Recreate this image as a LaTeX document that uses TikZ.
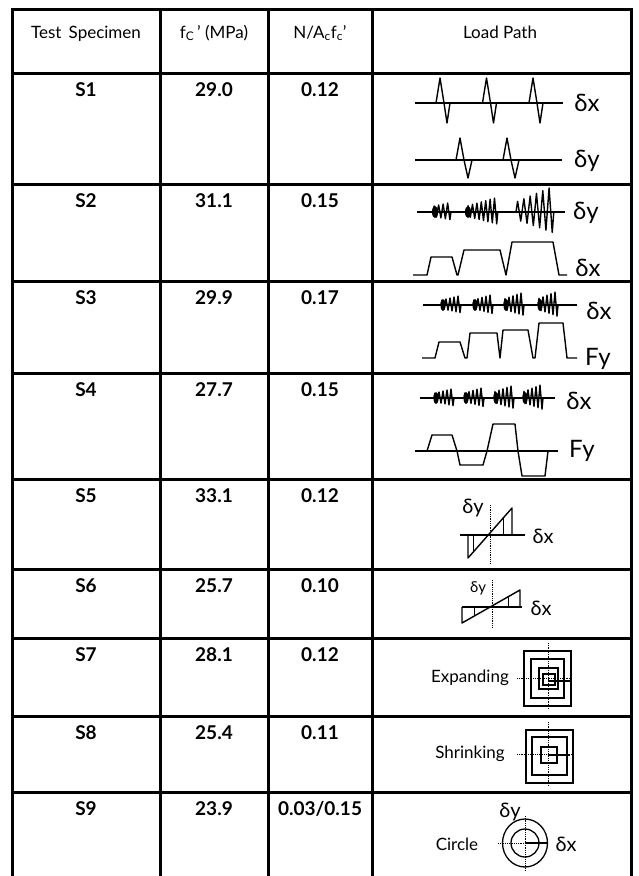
\documentclass[tikz,border=0pt]{standalone}
\usepackage{fontspec}
\setmainfont{Lato}
\newcommand{\zig}[6]{%
  \draw[wave] (#1,#2) \foreach \i in {1,...,#3}{
    -- ({#1+(\i-0.75)*#4},{#2-(#5+(#6-#5)*\i/#3)})
    -- ({#1+(\i-0.25)*#4},{#2+0.85*(#5+(#6-#5)*\i/#3)}) } -- ({#1+#3*#4},#2);}
\begin{document}
\begin{tikzpicture}[x=1pt,y=-1pt,
  gridline/.style={line width=3pt,line cap=rect},
  hd/.style={font=\fontsize{17}{19}\selectfont,anchor=base,inner sep=0},
  dat/.style={font=\bfseries\fontsize{19}{21}\selectfont,anchor=base,inner sep=0},
  wave/.style={line width=1.4pt,line join=round},
  base/.style={line width=1.5pt},
  axisline/.style={line width=0.8pt,densely dotted},
  lbig/.style={font=\fontsize{24}{26}\selectfont,inner sep=0},
  lmid/.style={font=\fontsize{20}{22}\selectfont,inner sep=0},
  lsml/.style={font=\fontsize{15}{17}\selectfont,inner sep=0},
  lword/.style={font=\fontsize{17}{19}\selectfont,inner sep=0}]
\useasboundingbox (0,0) rectangle (638,876);
% grid
\foreach \x in {12,160,268,372,631} \draw[gridline] (\x,9) -- (\x,876);
\foreach \y in {9,73,184,281,373,479,569,638,716,792} \draw[gridline] (12,\y) -- (631,\y);
% header
\node[hd] (h1) at (86,38) {Test\, Specimen};
\node[hd] (h2) at (214,38) {f\textsubscript{C}\,’ (MPa)};
\node[hd] (h3) at (320,38) {N/A\textsubscript{c}f\textsubscript{c}’};
\node[hd] (h4) at (500,38) {Load Path};
% data
\foreach \n/\y/\a/\b/\c in {1/73/S1/29.0/0.12, 2/184/S2/31.1/0.15, 3/281/S3/29.9/0.17,
   4/373/S4/27.7/0.15, 5/479/S5/33.1/0.12, 6/569/S6/25.7/0.10, 7/638/S7/28.1/0.12,
   8/716/S8/25.4/0.11, 9/792/S9/23.9/{0.03/0.15}}{
  \node[dat] (s\n) at (86,\y+23) {\a};
  \node[dat] (f\n) at (214,\y+23) {\b};
  \node[dat] (r\n) at (320,\y+23) {\c};
}
% ---- S1
\draw[base] (415,103) -- (563,103);
\foreach \d in {0,46.5,93}
  \draw[wave] (436+\d,103) -- (440+\d,78) -- (444+\d,103) -- (447+\d,123) -- (450+\d,103);
\node[lbig] (l1a) at (587,103) {δx};
\draw[base] (415,160) -- (562,160);
\foreach \d in {0,47}
  \draw[wave] (456+\d,160) -- (460+\d,138) -- (464+\d,160) -- (468+\d,178) -- (472+\d,160);
\node[lbig] (l1b) at (587,161) {δy};
% ---- S2
\draw[base] (417,212) -- (565,212);
\fill (435,212) ellipse (3 and 6);
\fill (468,212) ellipse (3 and 6);
\zig{433}{212}{4}{4.5}{5}{9}
\zig{467}{212}{7}{4.4}{5}{14}
\zig{516}{212}{6}{6.3}{8}{24}
\node[lbig] (l2a) at (586,213) {δy};
\draw[wave] (413,275) -- (427,275) -- (431,257) -- (452,257) -- (457,275) -- (458,275)
  -- (464,250) -- (500,250) -- (506,275) -- (512,242) -- (553,242) -- (559,275) -- (567,275);
\node[lbig] (l2b) at (588,268) {δx};
% ---- S3
\draw[base] (423,305) -- (577,305);
\foreach \c/\a/\b in {441/4/9,473/4/10,504/5/12,538/5/13}{
  \fill (\c+2,305) ellipse (2.5 and 6);
  \zig{\c}{305}{5}{4}{\a}{\b}
}
\node[lbig] (l3a) at (599,311) {δx};
\draw[wave] (422,358) -- (435,358) -- (439,342) -- (460,342) -- (465,358) -- (467,358)
  -- (470,333) -- (497,333) -- (500,358) -- (503,330) -- (528,330) -- (533,358)
  -- (535,358) -- (539,323) -- (563,323) -- (567,358) -- (577,358);
\node[lbig] (l3b) at (598,359) {Fy};
% ---- S4
\draw[base] (420,398) -- (555,398);
\foreach \c/\a/\b in {434/4/9,464/4/10,494/5/12,523/5/13}{
  \fill (\c+2,398) ellipse (2.5 and 6);
  \zig{\c}{398}{5}{4}{\a}{\b}
}
\node[lbig] (l4a) at (579,401) {δx};
\draw[base] (415,451) -- (558,451);
\draw[wave] (427,451) -- (432,435) -- (452,435) -- (457,451) -- (460,465) -- (483,465)
  -- (487,451) -- (493,424) -- (515,424) -- (518,451) -- (522,476) -- (545,476) -- (548,451);
\node[lbig] (l4b) at (582,451) {Fy};
% ---- S5
\draw[axisline] (490,505) -- (490,563);
\draw[line width=2pt] (460,535) -- (525,535);
\draw[wave] (468,535) -- (468,558) -- (512,508) -- (512,535);
\draw[line width=1pt] (473,535) -- (473,552);
\draw[line width=1pt] (503,518) -- (503,535);
\node[lmid] (l5a) at (473,508) {δy};
\node[lmid] (l5b) at (543,536) {δx};
% ---- S6
\draw[axisline] (492,580) -- (492,628);
\draw[line width=1.6pt] (462,607) -- (522,607);
\draw[wave] (462,607) -- (462,623) -- (520,590) -- (520,607);
\draw[line width=1pt] (474,607) -- (474,616);
\draw[line width=1pt] (508,597) -- (508,607);
\node[lsml] (l6a) at (478,588) {δy};
\node[lmid] (l6b) at (541,608) {δx};
% ---- S7
\node[lword] (l7) at (470,678) {Expanding};
\draw[axisline] (517,678) -- (571,678);
\draw[axisline] (548,643) -- (548,708);
\draw[line width=1.1pt] (524,651) rectangle (571,706);
\draw[line width=1.1pt] (531,659) rectangle (564,698);
\draw[line width=1.1pt] (539,668) rectangle (558,689);
\draw[line width=1.1pt] (543,674) rectangle (555,685);
\draw[line width=1.8pt] (548,681) -- (571,681);
% ---- S8
\node[lword] (l8) at (470,754) {Shrinking};
\draw[axisline] (517,754) -- (574,754);
\draw[axisline] (548,722) -- (548,786);
\draw[line width=1.1pt] (526,730) rectangle (573,783);
\draw[line width=1.1pt] (532,737) rectangle (567,775);
\draw[line width=1.1pt] (541,747) rectangle (557,763);
\draw[line width=1.8pt] (548,755) -- (570,755);
% ---- S9
\node[lword] (l9) at (457,844) {Circle};
\draw[axisline] (498,843) -- (547,843);
\draw[axisline] (525,816) -- (525,871);
\draw[line width=1.3pt] (525,843) ellipse (22.5 and 24);
\draw[line width=1.3pt] (525,843) circle (14);
\draw[line width=1.8pt] (525,843) -- (547,843);
\node[lmid] (l9a) at (510,812) {δy};
\node[lmid] (l9b) at (566,844) {δx};
\end{tikzpicture}
\end{document}
